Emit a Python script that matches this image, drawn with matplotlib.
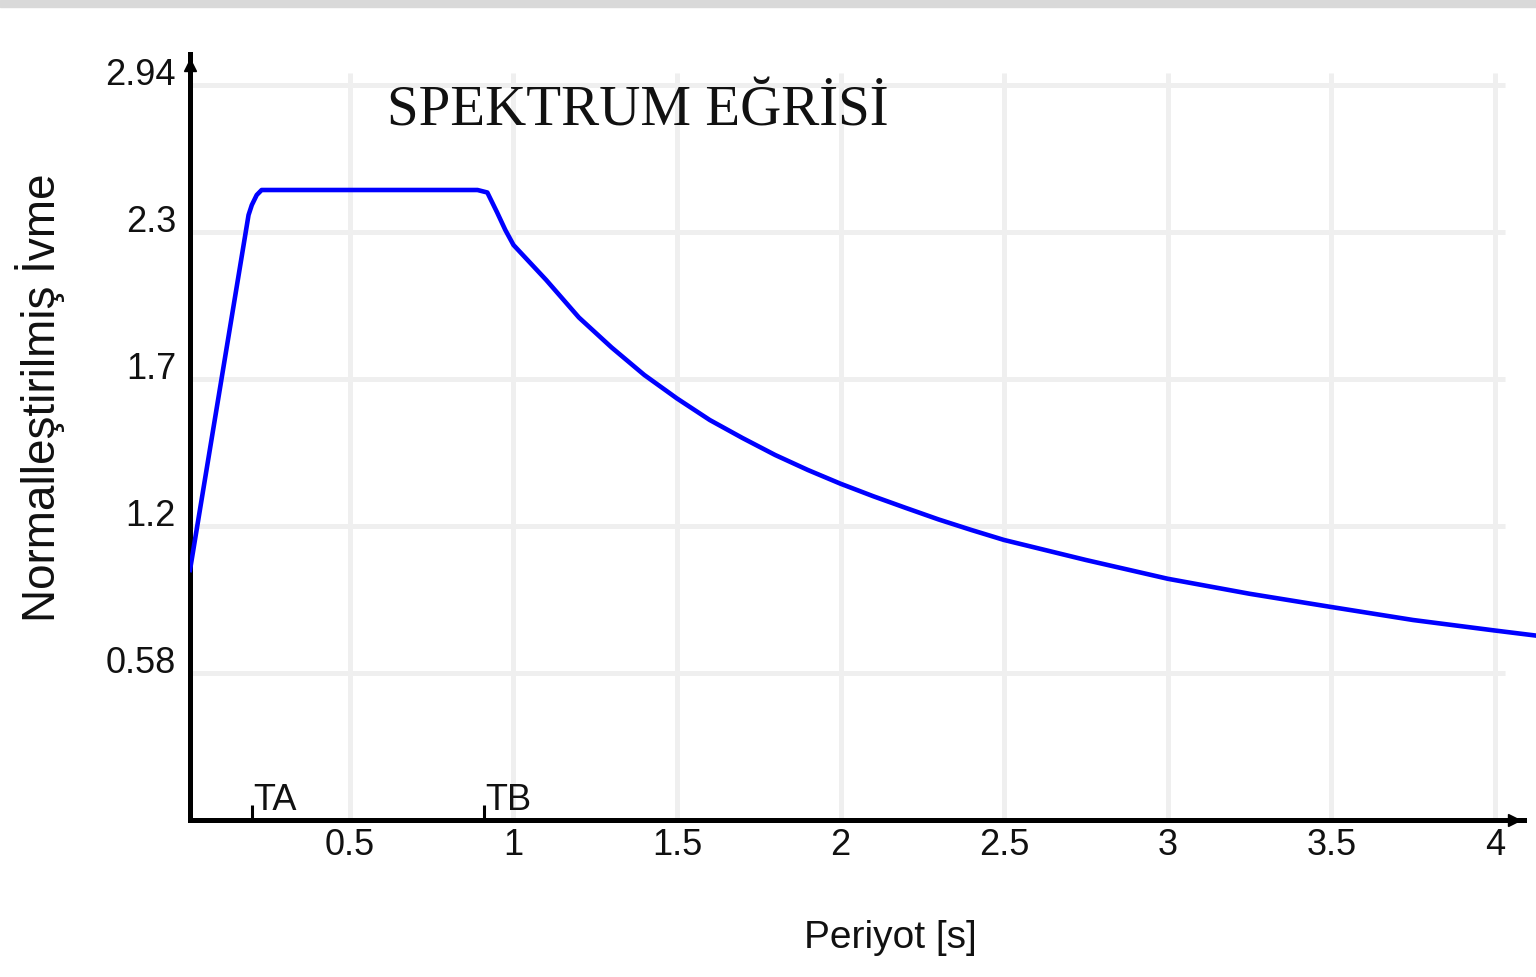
import matplotlib
matplotlib.use("Agg")
import matplotlib.pyplot as plt
from matplotlib.patches import Rectangle

# Spektrum verisi
periyot = [0.011, 0.19, 0.20, 0.215, 0.23, 0.50, 0.89, 0.92, 0.95, 0.975,
           1.0, 1.05, 1.1, 1.2, 1.3, 1.4, 1.5, 1.6, 1.7, 1.8, 1.9, 2.0,
           2.1, 2.2, 2.3, 2.4, 2.5, 2.75, 3.0, 3.25, 3.5, 3.75, 4.0, 4.13]
ivme = [1.00, 2.42, 2.46, 2.50, 2.52, 2.52, 2.52, 2.51, 2.43, 2.36,
        2.30, 2.23, 2.16, 2.01, 1.89, 1.78, 1.686, 1.60, 1.528, 1.46, 1.40, 1.345,
        1.295, 1.248, 1.202, 1.16, 1.12, 1.04, 0.965, 0.905, 0.852, 0.80, 0.758, 0.737]

x_ticks = [0.5, 1, 1.5, 2, 2.5, 3, 3.5, 4]
x_labels = ["0.5", "1", "1.5", "2", "2.5", "3", "3.5", "4"]
y_ticks = [0.588, 1.176, 1.764, 2.352, 2.94]
y_labels = ["0.58", "1.2", "1.7", "2.3", "2.94"]

TA, TB = 0.2, 0.91

plt.rcParams["font.family"] = ["Liberation Sans", "DejaVu Sans"]

W, H = 1536, 977
fig = plt.figure(figsize=(W / 100, H / 100), dpi=100)
fig.patches.append(Rectangle((0, 1 - 7 / H), 1, 7 / H, transform=fig.transFigure,
                             color="#d9d9d9", zorder=0))

ax = fig.add_axes([190 / W, (H - 820) / H, (W - 190) / W, (820 - 50) / H])
ax.set_xlim(0.011, 4.126)
ax.set_ylim(0, 3.08)

# Izgara
grid_c = "#efefef"
ax.hlines(y_ticks, 0.011, 4.03, color=grid_c, lw=3.6, zorder=1)
ax.vlines(x_ticks, 0, 2.99, color=grid_c, lw=3.6, zorder=1)

# Egri
ax.plot(periyot, ivme, color="#0000ff", lw=3.3, zorder=3)

# Eksenler
for s in ["top", "right"]:
    ax.spines[s].set_visible(False)
ax.spines["left"].set_linewidth(3.6)
ax.spines["bottom"].set_linewidth(3.6)
ax.spines["left"].set_bounds(0, 3.064)
ax.spines["bottom"].set_bounds(0.011, 4.09)
ax.plot([0.011], [3.02], marker="^", ms=9, color="black", clip_on=False, zorder=5)
ax.plot([4.06], [0], marker=">", ms=9, color="black", clip_on=False, zorder=5)

ax.set_xticks(x_ticks, x_labels)
ax.set_yticks(y_ticks, y_labels)
ax.tick_params(length=0, labelsize=26, colors="#111111")
ax.tick_params(axis="x", pad=6)
ax.tick_params(axis="y", pad=10)
for lbl in ax.get_yticklabels():
    lbl.set_va("baseline")

# TA / TB isaretleri
ax.vlines([TA, TB], 0, 0.06, color="black", lw=2.2, zorder=4)
ax.text(TA + 0.005, 0.04, "TA", fontsize=26, color="#111111")
ax.text(TB + 0.005, 0.04, "TB", fontsize=26, color="#111111")

# Yazilar
fig.text(638 / W, 1 - 125 / H, "SPEKTRUM EĞRİSİ", family=["Liberation Serif", "DejaVu Serif"],
         fontsize=41, ha="center", va="baseline", color="#111111")
fig.text(40 / W, 1 - 398 / H, "Normalleştirilmiş İvme", rotation=90, fontsize=33,
         ha="center", va="center", color="#111111")
fig.text(890 / W, 1 - 938 / H, "Periyot [s]", fontsize=28, ha="center", va="center",
         color="#111111")

plt.savefig("out.png", dpi=100)
plt.close()
